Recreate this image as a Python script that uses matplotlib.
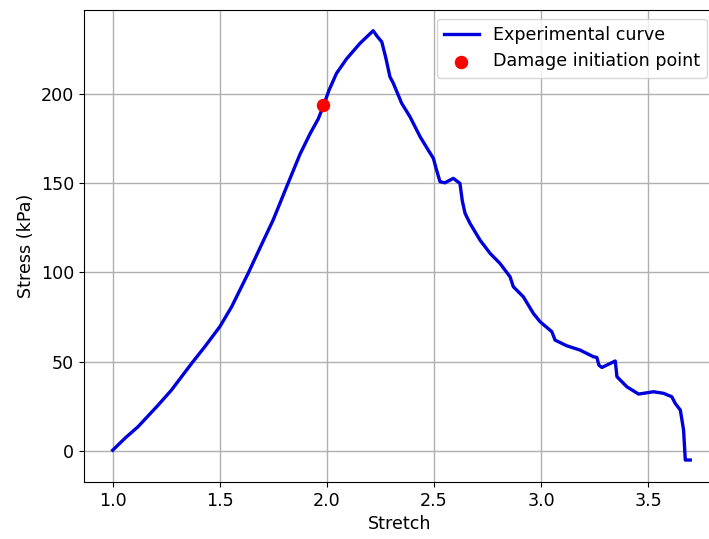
import matplotlib
matplotlib.use("Agg")
import matplotlib.pyplot as plt

# Stretch-stress curve
stretch = [1.0, 1.06, 1.118, 1.212, 1.274, 1.368, 1.43, 1.5, 1.555, 1.632, 1.679,
           1.749, 1.812, 1.874, 1.921, 1.96, 1.983, 2.01, 2.045, 2.092, 2.154, 2.216,
           2.235, 2.256, 2.275, 2.294, 2.31, 2.349, 2.388, 2.435, 2.473, 2.497,
           2.51, 2.528, 2.551, 2.59, 2.621, 2.632, 2.645, 2.668, 2.715, 2.762,
           2.808, 2.855, 2.87, 2.917, 2.964, 2.995, 3.05, 3.065, 3.12, 3.182,
           3.244, 3.26, 3.27, 3.284, 3.346, 3.354, 3.40, 3.455, 3.525, 3.572,
           3.61, 3.626, 3.65, 3.665, 3.673, 3.696]
stress = [0.5, 7.5, 13.6, 25.7, 34.1, 49.0, 58.4, 69.6, 80.7, 99.4, 111.5,
          129.3, 147.9, 166.0, 177.5, 186.0, 193.0, 202.0, 211.4, 219.5, 228.1, 235.2,
          232.0, 229.0, 220.0, 209.5, 205.8, 194.6, 187.0, 175.9, 168.4, 163.8,
          158.0, 150.7, 150.1, 152.6, 149.8, 140.0, 133.0, 127.4, 118.0, 110.6,
          105.0, 97.5, 92.0, 86.3, 77.0, 72.4, 66.8, 62.1, 58.9, 56.5,
          52.8, 52.4, 48.0, 46.8, 50.4, 41.6, 36.0, 31.9, 33.2, 32.3,
          30.4, 26.7, 22.9, 11.7, -5.0, -5.0]

damage_stretch = [1.983]
damage_stress = [193.6]

fig = plt.figure(figsize=(7.09, 5.39), dpi=100)
# right part of the axes runs past the image edge, as in the reference
ax = fig.add_axes([84 / 709, 1 - 482 / 539, (715.5 - 84) / 709, (482 - 10) / 539])

ax.plot(stretch, stress, color="#0000dd", linewidth=2.4, label="Experimental curve", zorder=2)
ax.scatter(damage_stretch, damage_stress, color="red", s=75, label="Damage initiation point", zorder=3)

ax.set_xlim(0.866, 3.814)
ax.set_ylim(-17.3, 246.8)
ax.set_xticks([1.0, 1.5, 2.0, 2.5, 3.0, 3.5])
ax.set_yticks([0, 50, 100, 150, 200])
ax.tick_params(labelsize=12.6)
ax.set_xlabel("Stretch", fontsize=12.6, labelpad=4)
ax.set_ylabel("Stress (kPa)", fontsize=12.6)
ax.grid(True, color="#b0b0b0", linewidth=1.0)
ax.legend(loc="upper right", fontsize=12.6)

fig.savefig("out.png", dpi=100)
